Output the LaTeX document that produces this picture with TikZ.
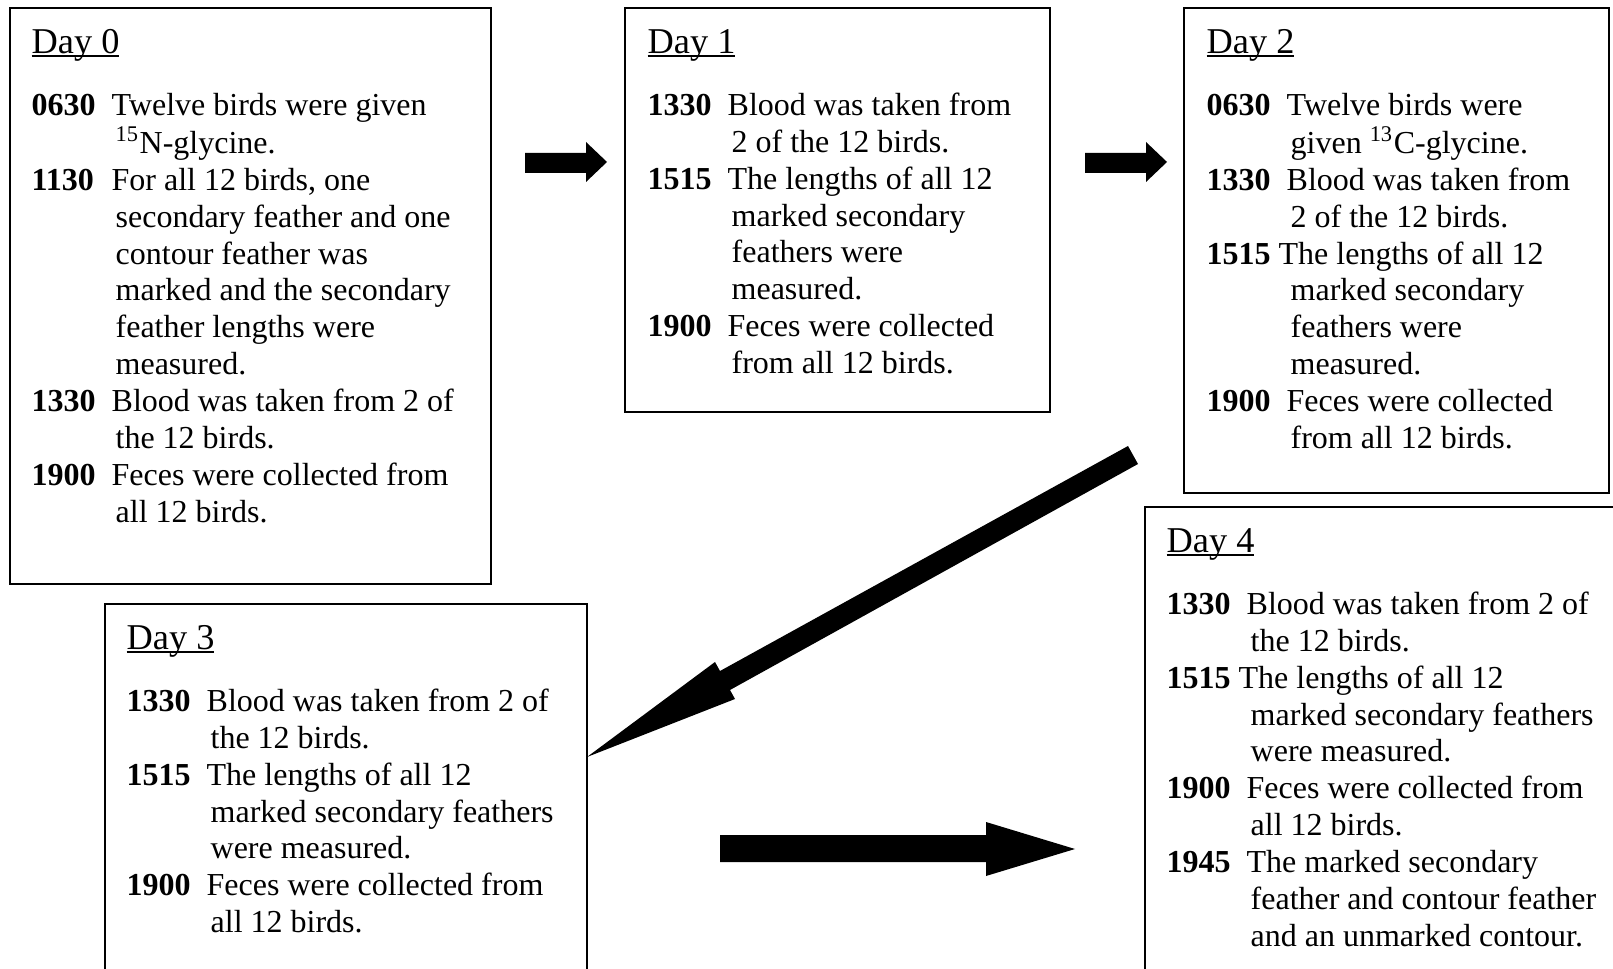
\documentclass[tikz,border=0pt]{standalone}
\usepackage{fontspec}
\setmainfont{Liberation Serif}
\usepackage{tikz}

\newcommand{\dayhead}[1]{\setbox0\hbox{\fontsize{10.9}{11.07}\selectfont #1}\rlap{\rule[-1.1pt]{\wd0}{0.55pt}}\box0}
\newcommand{\daytime}[1]{\makebox[24pt][l]{\textbf{#1}}}
\newcommand{\cont}{\hspace*{25.2pt}}

\begin{document}
\begin{tikzpicture}[x=3pt,y=3pt,
  daytext/.style={anchor=base west, font=\fontsize{9.6}{11.07}\selectfont}]
\tikzstyle{every node}+=[inner sep=0pt]
\useasboundingbox (0,0) rectangle (161.3,-96.9);
\clip (0,0) rectangle (161.3,-96.9);
% boxes
\draw [black, line width=0.7pt] (1.0,-0.8) rectangle (49.1,-58.4);
\draw [black, line width=0.7pt] (62.5,-0.8) rectangle (105.0,-41.2);
\draw [black, line width=0.7pt] (118.4,-0.8) rectangle (160.9,-49.3);
\draw [black, line width=0.7pt] (10.5,-60.4) rectangle (58.7,-100);
\draw [black, line width=0.7pt] (114.5,-50.7) rectangle (165,-100);
% texts
\node [daytext] (day0) at (3.1,-5.35) {\begin{tabular}[t]{@{}l@{}}\dayhead{Day 0}\\[7.5pt]
\daytime{0630}Twelve birds were given\\
\cont\textsuperscript{15}N-glycine.\\
\daytime{1130}For all 12 birds, one\\
\cont secondary feather and one\\
\cont contour feather was\\
\cont marked and the secondary\\
\cont feather lengths were\\
\cont measured.\\
\daytime{1330}Blood was taken from 2 of\\
\cont the 12 birds.\\
\daytime{1900}Feces were collected from\\
\cont all 12 birds.\end{tabular}};
\node [daytext] (day1) at (64.7,-5.35) {\begin{tabular}[t]{@{}l@{}}\dayhead{Day 1}\\[7.5pt]
\daytime{1330}Blood was taken from\\
\cont 2 of the 12 birds.\\
\daytime{1515}The lengths of all 12\\
\cont marked secondary\\
\cont feathers were\\
\cont measured.\\
\daytime{1900}Feces were collected\\
\cont from all 12 birds.\end{tabular}};
\node [daytext] (day2) at (120.6,-5.35) {\begin{tabular}[t]{@{}l@{}}\dayhead{Day 2}\\[7.5pt]
\daytime{0630}Twelve birds were\\
\cont given \textsuperscript{13}C-glycine.\\
\daytime{1330}Blood was taken from\\
\cont 2 of the 12 birds.\\
\textbf{1515} The lengths of all 12\\
\cont marked secondary\\
\cont feathers were\\
\cont measured.\\
\daytime{1900}Feces were collected\\
\cont from all 12 birds.\end{tabular}};
\node [daytext] (day3) at (12.6,-64.95) {\begin{tabular}[t]{@{}l@{}}\dayhead{Day 3}\\[7.5pt]
\daytime{1330}Blood was taken from 2 of\\
\cont the 12 birds.\\
\daytime{1515}The lengths of all 12\\
\cont marked secondary feathers\\
\cont were measured.\\
\daytime{1900}Feces were collected from\\
\cont all 12 birds.\end{tabular}};
\node [daytext] (day4) at (116.6,-55.25) {\begin{tabular}[t]{@{}l@{}}\dayhead{Day 4}\\[7.5pt]
\daytime{1330}Blood was taken from 2 of\\
\cont the 12 birds.\\
\textbf{1515} The lengths of all 12\\
\cont marked secondary feathers\\
\cont were measured.\\
\daytime{1900}Feces were collected from\\
\cont all 12 birds.\\
\daytime{1945}The marked secondary\\
\cont feather and contour feather\\
\cont and an unmarked contour.\end{tabular}};
% arrows
\fill [black] (52.5,-15.3) -- (58.6,-15.3) -- (58.6,-14.2) -- (60.7,-16.2) -- (58.6,-18.2) -- (58.6,-17.3) -- (52.5,-17.3) -- cycle;
\fill [black] (108.5,-15.3) -- (114.6,-15.3) -- (114.6,-14.2) -- (116.7,-16.2) -- (114.6,-18.2) -- (114.6,-17.3) -- (108.5,-17.3) -- cycle;
\fill [black] (112.8,-44.6) -- (72.0,-67.1) -- (71.5,-66.2) -- (58.7,-75.7) -- (73.5,-69.9) -- (73.0,-69.0) -- (113.8,-46.4) -- cycle;
\fill [black] (72.0,-83.5) -- (98.6,-83.5) -- (98.6,-82.2) -- (107.5,-84.9) -- (98.6,-87.6) -- (98.6,-86.2) -- (72.0,-86.2) -- cycle;
\end{tikzpicture}
\end{document}
